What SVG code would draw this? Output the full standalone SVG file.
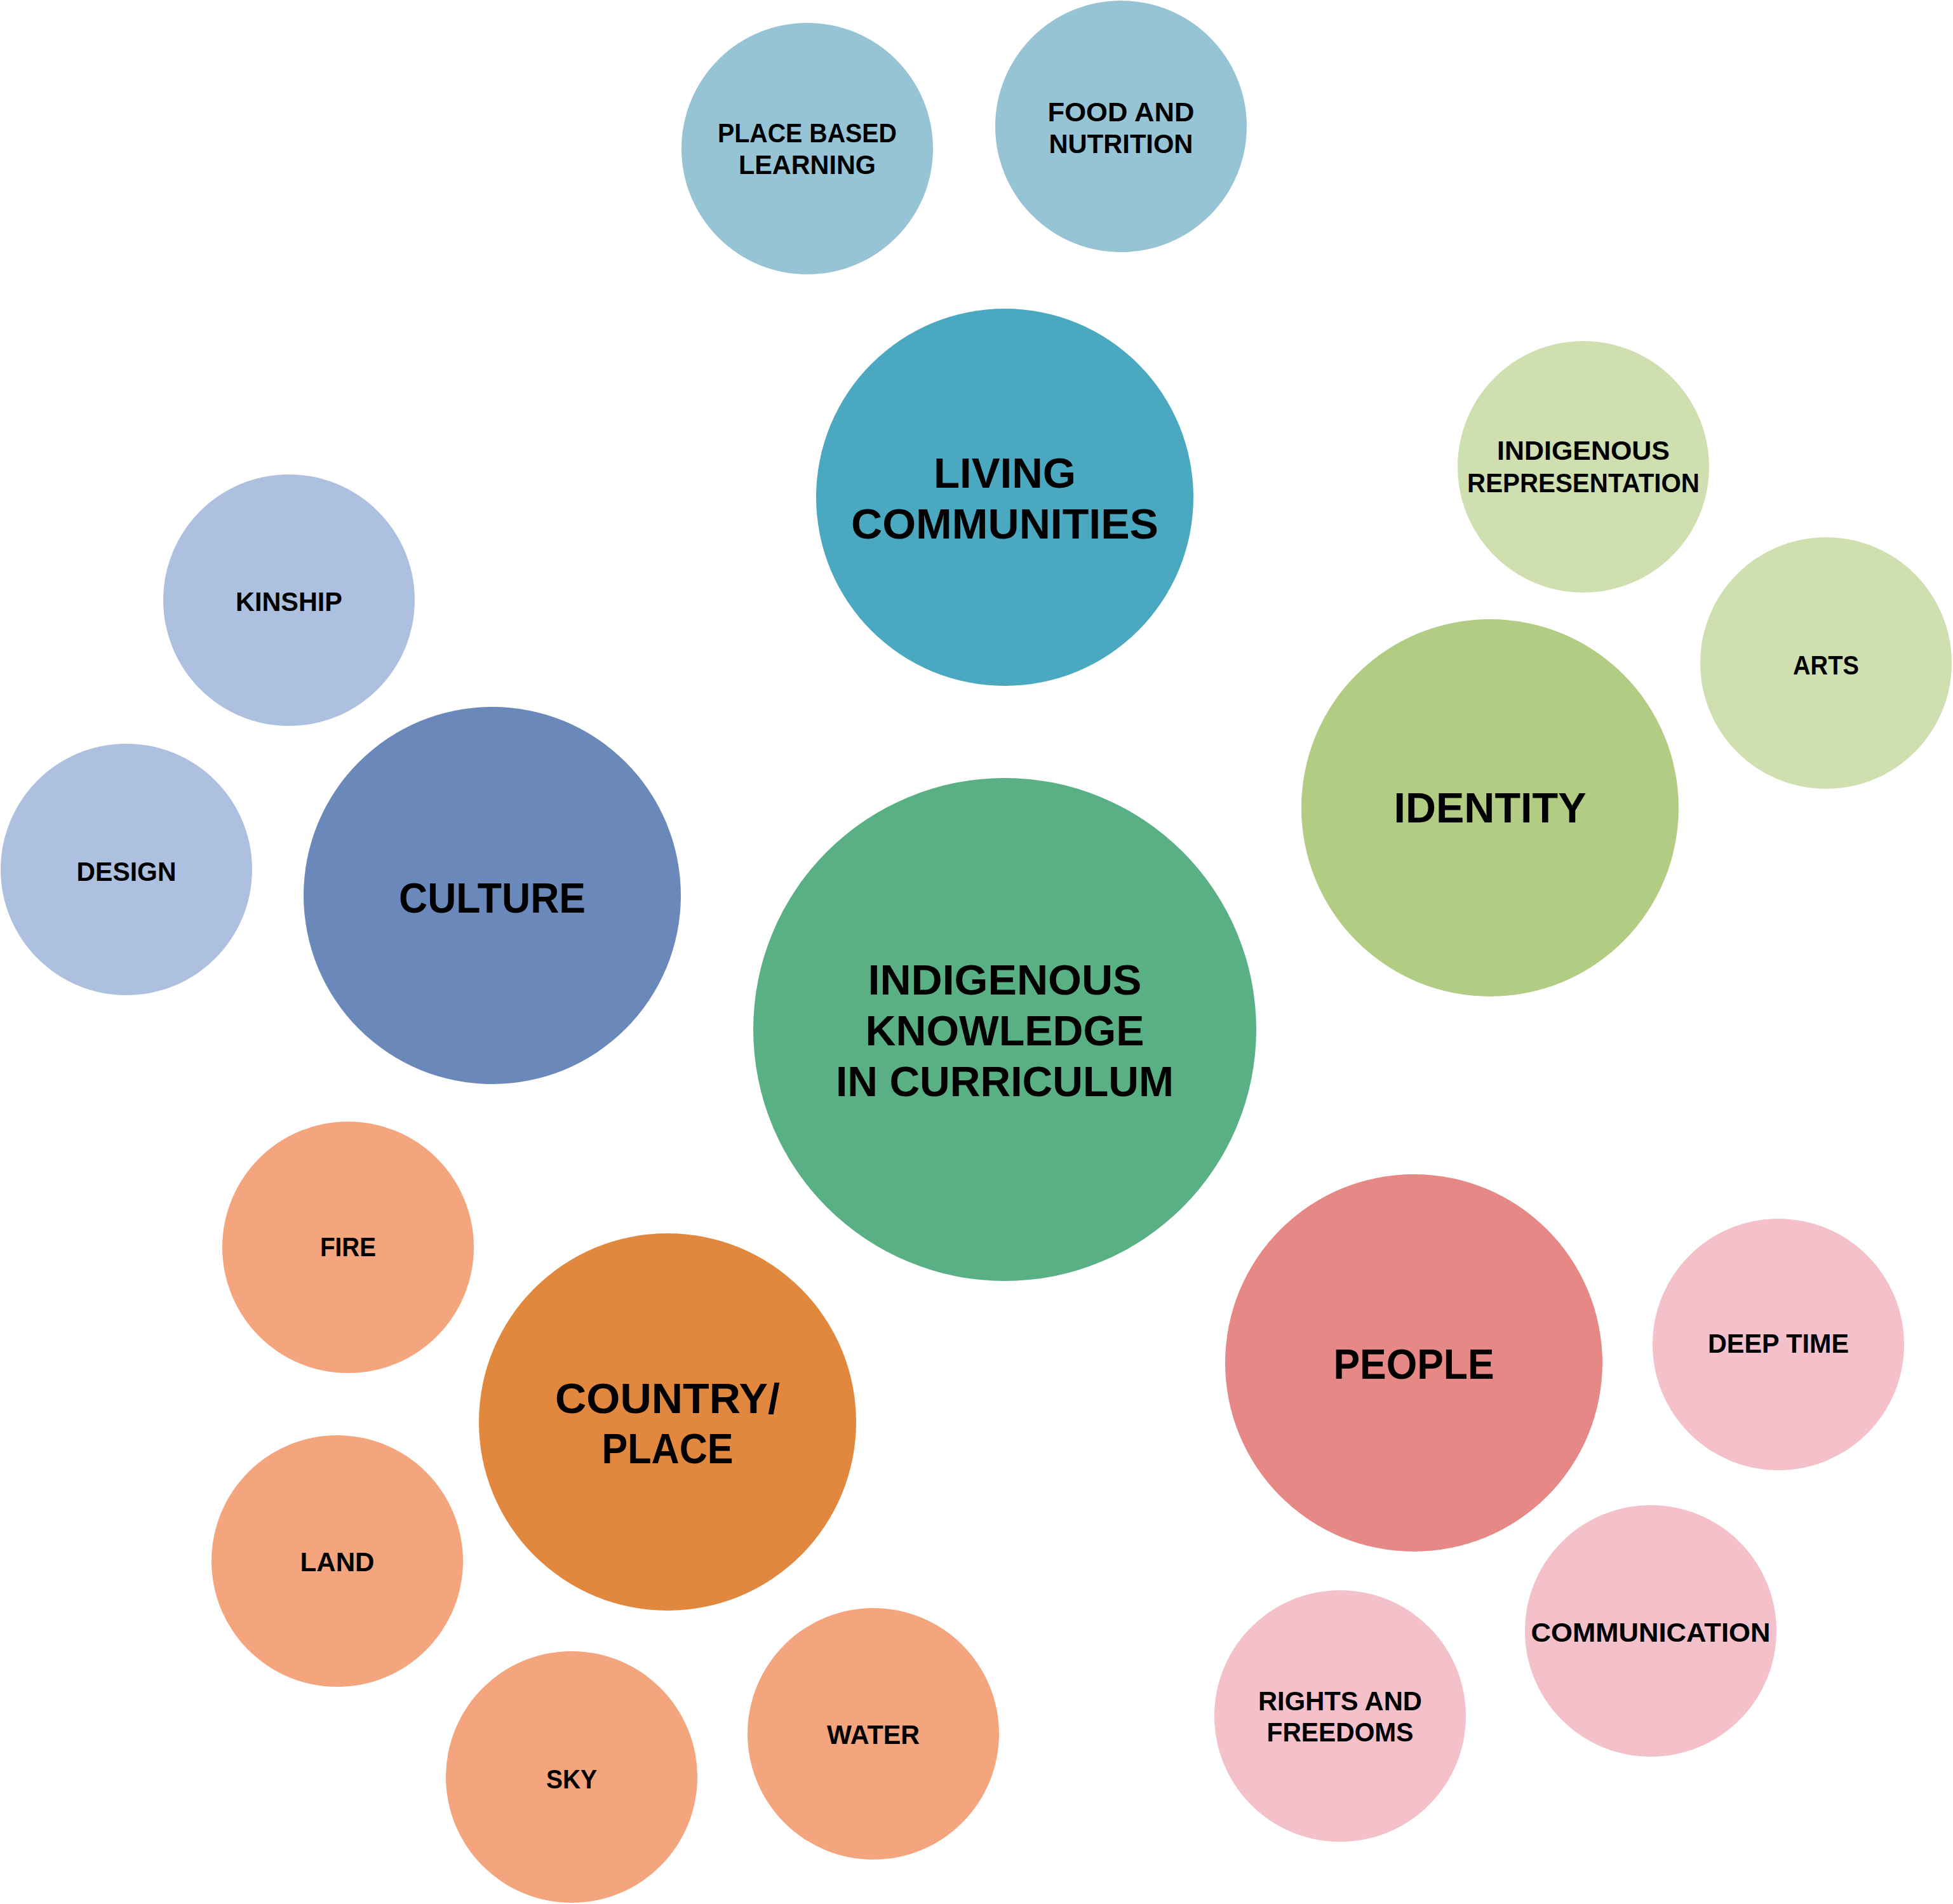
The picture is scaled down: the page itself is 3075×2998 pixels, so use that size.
<svg xmlns="http://www.w3.org/2000/svg" width="3075" height="2998" viewBox="0 0 3075 2998">
<style>
text{font-family:"Liberation Sans",Arial,Helvetica,sans-serif;font-weight:bold;fill:#000;text-anchor:middle}
.big{font-size:66px}
.sm{font-size:42px}
.core{fill:#5AB085}
.liv{fill:#4AA8C0}.livs{fill:#97C4D4}
.ide{fill:#B2CC83}.ides{fill:#D0DFB0}
.cul{fill:#6A89BA}.culs{fill:#ADC0E0}
.cou{fill:#E2883E}.cous{fill:#F5A57D}
.peo{fill:#E68886}.peos{fill:#F4C0C9}
</style>
<rect width="3075" height="2998" fill="#fff"/>
<g id="connectors"/>
<g id="core"><circle class="core" cx="1582" cy="1621" r="396"/>
<text class="big" x="1582" y="1566" textLength="431" lengthAdjust="spacingAndGlyphs">INDIGENOUS</text>
<text class="big" x="1582" y="1646" textLength="439" lengthAdjust="spacingAndGlyphs">KNOWLEDGE</text>
<text class="big" x="1582" y="1726" textLength="532" lengthAdjust="spacingAndGlyphs">IN CURRICULUM</text></g>
<g id="living-communities"><circle class="liv" cx="1582" cy="783" r="297"/>
<text class="big" x="1582" y="768" textLength="224" lengthAdjust="spacingAndGlyphs">LIVING</text>
<text class="big" x="1582" y="848" textLength="484" lengthAdjust="spacingAndGlyphs">COMMUNITIES</text></g>
<g id="place-based-learning"><circle class="livs" cx="1271" cy="234" r="198"/>
<text class="sm" x="1271" y="224" textLength="282" lengthAdjust="spacingAndGlyphs">PLACE BASED</text>
<text class="sm" x="1271" y="274" textLength="216" lengthAdjust="spacingAndGlyphs">LEARNING</text></g>
<g id="food-and-nutrition"><circle class="livs" cx="1765" cy="199" r="198"/>
<text class="sm" x="1765" y="191" textLength="231" lengthAdjust="spacingAndGlyphs">FOOD AND</text>
<text class="sm" x="1765" y="241" textLength="227" lengthAdjust="spacingAndGlyphs">NUTRITION</text></g>
<g id="identity"><circle class="ide" cx="2346" cy="1272" r="297"/>
<text class="big" x="2346" y="1295" textLength="303" lengthAdjust="spacingAndGlyphs">IDENTITY</text></g>
<g id="indigenous-representation"><circle class="ides" cx="2493" cy="735" r="198"/>
<text class="sm" x="2493" y="724" textLength="272" lengthAdjust="spacingAndGlyphs">INDIGENOUS</text>
<text class="sm" x="2493" y="775" textLength="366" lengthAdjust="spacingAndGlyphs">REPRESENTATION</text></g>
<g id="arts"><circle class="ides" cx="2875" cy="1044" r="198"/>
<text class="sm" x="2875" y="1062" textLength="104" lengthAdjust="spacingAndGlyphs">ARTS</text></g>
<g id="culture"><circle class="cul" cx="775" cy="1410" r="297"/>
<text class="big" x="775" y="1437" textLength="294" lengthAdjust="spacingAndGlyphs">CULTURE</text></g>
<g id="kinship"><circle class="culs" cx="455" cy="945" r="198"/>
<text class="sm" x="455" y="962" textLength="168" lengthAdjust="spacingAndGlyphs">KINSHIP</text></g>
<g id="design"><circle class="culs" cx="199" cy="1369" r="198"/>
<text class="sm" x="199" y="1387" textLength="157" lengthAdjust="spacingAndGlyphs">DESIGN</text></g>
<g id="country-place"><circle class="cou" cx="1051" cy="2239" r="297"/>
<text class="big" x="1051" y="2225" textLength="354" lengthAdjust="spacingAndGlyphs">COUNTRY/</text>
<text class="big" x="1051" y="2304" textLength="207" lengthAdjust="spacingAndGlyphs">PLACE</text></g>
<g id="fire"><circle class="cous" cx="548" cy="1964" r="198"/>
<text class="sm" x="548" y="1978" textLength="88" lengthAdjust="spacingAndGlyphs">FIRE</text></g>
<g id="land"><circle class="cous" cx="531" cy="2458" r="198"/>
<text class="sm" x="531" y="2474" textLength="117" lengthAdjust="spacingAndGlyphs">LAND</text></g>
<g id="sky"><circle class="cous" cx="900" cy="2798" r="198"/>
<text class="sm" x="900" y="2816" textLength="80" lengthAdjust="spacingAndGlyphs">SKY</text></g>
<g id="water"><circle class="cous" cx="1375" cy="2730" r="198"/>
<text class="sm" x="1375" y="2746" textLength="146" lengthAdjust="spacingAndGlyphs">WATER</text></g>
<g id="people"><circle class="peo" cx="2226" cy="2146" r="297"/>
<text class="big" x="2226" y="2171" textLength="253" lengthAdjust="spacingAndGlyphs">PEOPLE</text></g>
<g id="deep-time"><circle class="peos" cx="2800" cy="2117" r="198"/>
<text class="sm" x="2800" y="2130" textLength="222" lengthAdjust="spacingAndGlyphs">DEEP TIME</text></g>
<g id="communication"><circle class="peos" cx="2599" cy="2568" r="198"/>
<text class="sm" x="2599" y="2585" textLength="377" lengthAdjust="spacingAndGlyphs">COMMUNICATION</text></g>
<g id="rights-and-freedoms"><circle class="peos" cx="2110" cy="2702" r="198"/>
<text class="sm" x="2110" y="2693" textLength="258" lengthAdjust="spacingAndGlyphs">RIGHTS AND</text>
<text class="sm" x="2110" y="2742" textLength="231" lengthAdjust="spacingAndGlyphs">FREEDOMS</text></g>
</svg>
